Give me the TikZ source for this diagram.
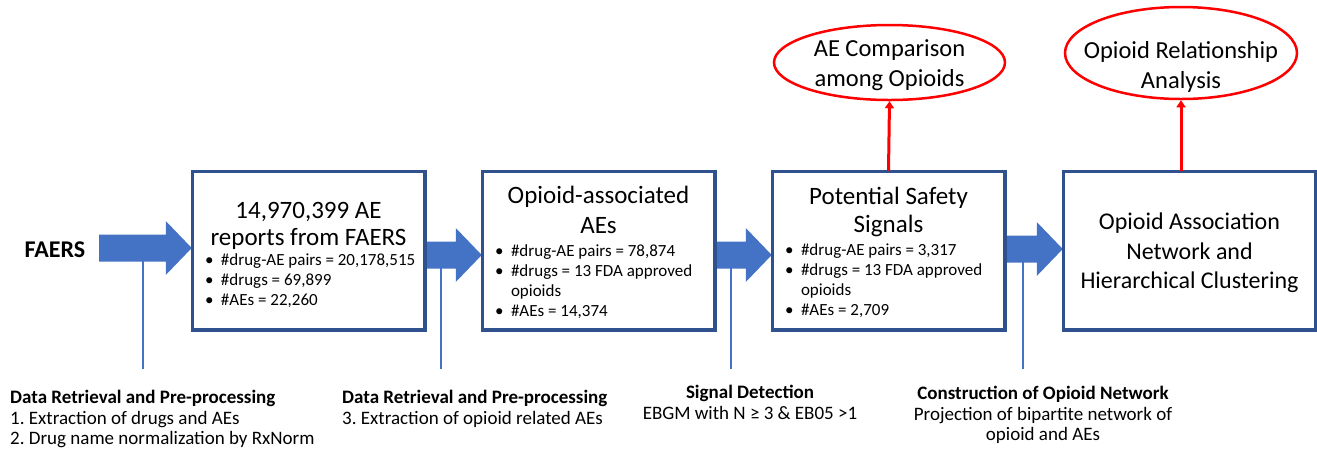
\documentclass[tikz,border=0pt]{standalone}
\usepackage{fontspec}
\setmainfont{Carlito}
\frenchspacing
\usetikzlibrary{shapes.geometric,arrows.meta,calc}
\definecolor{boxblue}{RGB}{47,82,143}
\definecolor{arrblue}{RGB}{68,114,196}
\definecolor{linered}{RGB}{255,0,0}
\newcommand{\bul}[1]{\par\noindent\mbox{\makebox[22pt][l]{\hspace{6pt}•}#1}\par}
\newcommand{\bulcont}[1]{\par\noindent\mbox{\hspace*{22pt}#1}\par}
% #1 top space, #2 title baselineskip, #3 title, #4 gap, #5 bullets
\newcommand{\boxcontent}[5]{\parbox{219pt}{\vspace*{#1}\centering\fontsize{25}{#2}\selectfont #3\par
  \vspace{#4}\raggedright\fontsize{17}{20}\selectfont #5}}
\newcommand{\blockarrow}[3]{%
  \fill[arrblue] let \p1=(#1), \p2=(#2) in
   (\x1,\y2+#3+13.5pt) -- (\x2-26pt,\y2+#3+13.5pt) -- (\x2-26pt,\y2+#3+27pt) -- (\x2,\y2+#3)
   -- (\x2-26pt,\y2+#3-27pt) -- (\x2-26pt,\y2+#3-13.5pt) -- (\x1,\y2+#3-13.5pt) -- cycle;}
\tikzset{
  stepbox/.style={draw=boxblue, line width=2.5pt, fill=white, minimum width=231pt, minimum height=157pt,
     inner xsep=6pt, inner ysep=0pt},
  endbox/.style={draw=boxblue, line width=2.5pt, fill=white, minimum width=251pt, minimum height=157pt,
     inner sep=0pt},
  oval/.style={draw=linered, line width=2.5pt, ellipse, inner sep=0pt},
  ovaltext/.style={align=center, inner sep=0pt, font=\fontsize{24.5}{30}\selectfont},
  vline/.style={draw=arrblue, line width=2pt},
  redarr/.style={draw=linered, line width=3pt, -{Triangle[width=9pt,length=7pt]}},
  lab/.style={inner sep=0pt, font=\fontsize{19}{20.5}\selectfont},
}
\begin{document}
\begin{tikzpicture}[x=1pt,y=-1pt]
\useasboundingbox (0,0) rectangle (1317,451);

% labels of steps
\node[lab, anchor=north west, align=left] (l1) at (10,390) {\textbf{Data Retrieval and Pre-processing}\\1. Extraction of drugs and AEs\\2. Drug name normalization by RxNorm};
\node[lab, anchor=north west, align=left] (l2) at (342,390) {\textbf{Data Retrieval and Pre-processing}\\3. Extraction of opioid related AEs};
\node[lab, anchor=north, align=center] (l3) at (750,385) {\textbf{Signal Detection}\\EBGM with N ≥ 3 \& EB05 >1};
\node[lab, anchor=north, align=center] (l4) at (1043,386) {\textbf{Construction of Opioid Network}\\Projection of bipartite network of\\opioid and AEs};

\coordinate (v1) at (143,369);
\coordinate (v2) at (441,369);
\coordinate (v3) at (731,369);
\coordinate (v4) at (1023,369);
\coordinate (a1) at (99,248);

\node[font=\fontsize{24}{27}\selectfont\bfseries, inner sep=0pt] (faers) at (55,250) {FAERS};

% boxes
\node[stepbox] (b1) at (308.5,250.5) {\boxcontent{8pt}{27}{14,970,399 AE\\reports from FAERS}{0pt}{%
\bul{\#drug-AE pairs = 20,178,515}
\bul{\#drugs = 69,899}
\bul{\#AEs = 22,260}}};
\node[stepbox] (b2) at (598.5,250.5) {\boxcontent{4pt}{30}{Opioid-associated\\AEs}{3pt}{%
\bul{\#drug-AE pairs = 78,874}
\bul{\#drugs = 13 FDA approved}
\bulcont{opioids}
\bul{\#AEs = 14,374}}};
\node[stepbox] (b3) at (888.5,250.5) {\boxcontent{4pt}{28}{Potential Safety\\Signals}{3pt}{%
\bul{\#drug-AE pairs = 3,317}
\bul{\#drugs = 13 FDA approved}
\bulcont{opioids}
\bul{\#AEs = 2,709}}};
\node[endbox] (b4) at (1189.5,250.5) {\parbox{251pt}{\vspace*{5pt}\centering\fontsize{24}{29.5}\selectfont Opioid Association\\Network and\\Hierarchical Clustering}};

% vertical lines
\draw[vline] (v1) -- (v1 |- b1.center);
\draw[vline] (v2) -- (v2 |- b1.center);
\draw[vline] (v3) -- (v3 |- b1.center);
\draw[vline] (v4) -- (v4 |- b1.center);

% block arrows
\blockarrow{a1}{b1.west}{2.5pt}
\blockarrow{b1.east}{b2.west}{-4.5pt}
\blockarrow{b2.east}{b3.west}{-4.5pt}
\blockarrow{b3.east}{b4.west}{1.5pt}

% redraw box borders over arrow tips
\draw[boxblue, line width=2.5pt] (b1.north west) rectangle (b1.south east);
\draw[boxblue, line width=2.5pt] (b2.north west) rectangle (b2.south east);
\draw[boxblue, line width=2.5pt] (b3.north west) rectangle (b3.south east);
\draw[boxblue, line width=2.5pt] (b4.north west) rectangle (b4.south east);

% ovals
\node[oval, minimum width=231pt, minimum height=75pt] (e1) at (889.5,62.5) {};
\node[ovaltext] (t1) at (889.5,65) {AE Comparison\\among Opioids};
\node[oval, minimum width=232pt, minimum height=92pt] (e2) at (1181,53) {};
\node[ovaltext] (t2) at (1181,67) {Opioid Relationship\\Analysis};

\draw[redarr] (b3.north) -- (e1.south);
\draw[redarr] (b4.north -| e2.south) -- (e2.south);
\end{tikzpicture}
\end{document}
